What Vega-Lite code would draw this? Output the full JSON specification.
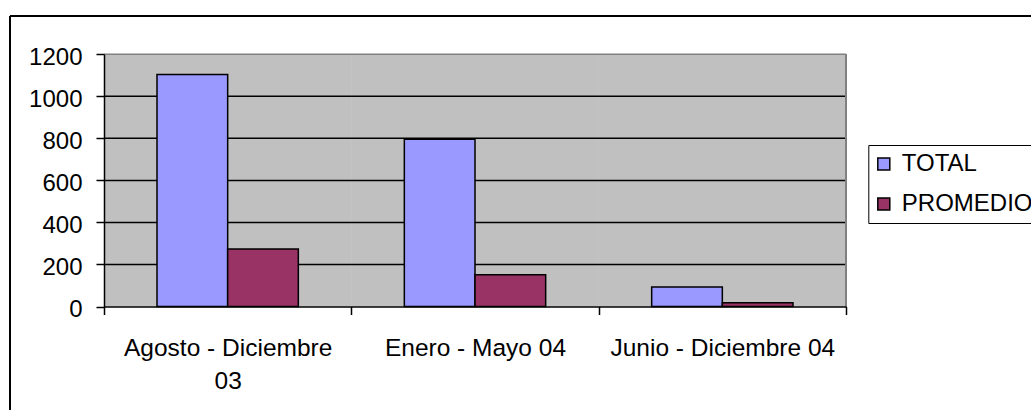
{
  "$schema": "https://vega.github.io/schema/vega-lite/v6.json",
  "width": 1021,
  "height": 394,
  "autosize": {"type": "none"},
  "padding": {"left": 10, "top": 16, "right": 0, "bottom": 0},
  "background": "white",
  "config": {
    "view": {"stroke": null},
    "font": "Liberation Sans"
  },
  "datasets": {
    "bars": [
      {"periodo": "Agosto - Diciembre 03", "serie": "TOTAL", "valor": 1104},
      {"periodo": "Agosto - Diciembre 03", "serie": "PROMEDIO", "valor": 274},
      {"periodo": "Enero - Mayo 04", "serie": "TOTAL", "valor": 796},
      {"periodo": "Enero - Mayo 04", "serie": "PROMEDIO", "valor": 151},
      {"periodo": "Junio - Diciembre 04", "serie": "TOTAL", "valor": 93},
      {"periodo": "Junio - Diciembre 04", "serie": "PROMEDIO", "valor": 18}
    ],
    "grid": [{"v": 200}, {"v": 400}, {"v": 600}, {"v": 800}, {"v": 1000}, {"v": 1200}]
  },
  "layer": [
    {
      "data": {"name": "bars"},
      "mark": {"type": "rect", "fill": "#C0C0C0"},
      "encoding": {
        "x": {"field": "periodo", "type": "nominal", "sort": null, "axis": null,
              "scale": {"type": "band", "domain": ["Agosto - Diciembre 03", "Enero - Mayo 04", "Junio - Diciembre 04"], "range": [94, 836], "paddingInner": 0, "paddingOuter": 0}},
        "y": {"datum": 0, "type": "quantitative", "axis": null,
              "scale": {"domain": [0, 1200], "range": [290.5, 38.3], "nice": false, "zero": false}},
        "y2": {"datum": 1200}
      }
    },
    {
      "data": {"name": "grid"},
      "mark": {"type": "rule", "strokeWidth": 1.5},
      "encoding": {
        "y": {"field": "v", "type": "quantitative", "axis": null,
              "scale": {"domain": [0, 1200], "range": [290.5, 38.3], "nice": false, "zero": false}},
        "x": {"datum": "Agosto - Diciembre 03", "type": "nominal", "bandPosition": 0, "axis": null,
              "scale": {"type": "band", "domain": ["Agosto - Diciembre 03", "Enero - Mayo 04", "Junio - Diciembre 04"], "range": [94, 836], "paddingInner": 0, "paddingOuter": 0}},
        "x2": {"datum": "Junio - Diciembre 04", "bandPosition": 1},
        "stroke": {"condition": {"test": "datum.v == 1200", "value": "#808080"}, "value": "black"}
      }
    },
    {
      "data": {"name": "grid"},
      "mark": {"type": "rule", "strokeWidth": 1.5, "color": "#808080"},
      "encoding": {
        "x": {"datum": "Junio - Diciembre 04", "type": "nominal", "bandPosition": 1, "axis": null,
              "scale": {"type": "band", "domain": ["Agosto - Diciembre 03", "Enero - Mayo 04", "Junio - Diciembre 04"], "range": [94, 836], "paddingInner": 0, "paddingOuter": 0}},
        "y": {"datum": 0, "type": "quantitative", "axis": null,
              "scale": {"domain": [0, 1200], "range": [290.5, 38.3], "nice": false, "zero": false}},
        "y2": {"datum": 1200}
      }
    },
    {
      "data": {"name": "bars"},
      "mark": {"type": "bar", "stroke": "black", "strokeWidth": 1.5},
      "encoding": {
        "x": {
          "field": "periodo", "type": "nominal", "sort": null,
          "scale": {"type": "band", "domain": ["Agosto - Diciembre 03", "Enero - Mayo 04", "Junio - Diciembre 04"], "range": [94, 836], "paddingInner": 0, "paddingOuter": 0},
          "axis": {
            "title": null, "orient": "bottom", "offset": -103.5, "zindex": 1,
            "domainColor": "black", "domainWidth": 1.5,
            "tickColor": "black", "tickWidth": 1.5, "tickSize": 8, "tickBand": "extent",
            "labelFont": "Liberation Sans", "labelFontSize": 24.5, "labelColor": "black",
            "labelPadding": 22, "labelLineHeight": 33, "labelAngle": 0, "labelLimit": 500,
            "labelExpr": "datum.value == 'Agosto - Diciembre 03' ? ['Agosto - Diciembre', '03'] : datum.label",
            "grid": false
          }
        },
        "xOffset": {
          "field": "serie", "type": "nominal",
          "scale": {"domain": ["TOTAL", "PROMEDIO"], "paddingInner": 0, "paddingOuter": 0.75}
        },
        "y": {
          "field": "valor", "type": "quantitative",
          "scale": {"domain": [0, 1200], "range": [290.5, 38.3], "nice": false, "zero": false},
          "axis": {
            "title": null, "orient": "left", "offset": -94, "zindex": 1,
            "values": [0, 200, 400, 600, 800, 1000, 1200], "format": "d",
            "domainColor": "black", "domainWidth": 1.5,
            "tickColor": "black", "tickWidth": 1.5, "tickSize": 8,
            "labelFont": "Liberation Sans", "labelFontSize": 24, "labelColor": "black",
            "labelPadding": 14, "labelOffset": 3,
            "grid": false
          }
        },
        "color": {
          "field": "serie", "type": "nominal",
          "scale": {"domain": ["TOTAL", "PROMEDIO"], "range": ["#9999FF", "#993366"]},
          "legend": {
            "title": null, "orient": "none", "legendX": 858.3, "legendY": 129,
            "direction": "vertical",
            "strokeColor": "black", "fillColor": "white", "padding": 7,
            "symbolType": "square", "symbolSize": 144,
            "symbolStrokeColor": "black", "symbolStrokeWidth": 1.5, "symbolOffset": -3.5,
            "labelFont": "Liberation Sans", "labelFontSize": 24, "labelColor": "black",
            "labelOffset": 6, "rowPadding": 16, "labelLimit": 400
          }
        }
      }
    },
    {
      "data": {"name": "grid"},
      "mark": {"type": "rule", "color": "black", "strokeWidth": 2},
      "encoding": {
        "x": {"datum": 0, "type": "quantitative", "scale": {"domain": [0, 1]}, "axis": null}
      }
    },
    {
      "data": {"name": "grid"},
      "mark": {"type": "rule", "color": "black", "strokeWidth": 2},
      "encoding": {
        "y": {"datum": 1, "type": "quantitative", "scale": {"domain": [0, 1]}, "axis": null}
      }
    }
  ],
  "resolve": {"scale": {"x": "independent", "y": "independent"}, "axis": {"x": "independent", "y": "independent"}}
}
